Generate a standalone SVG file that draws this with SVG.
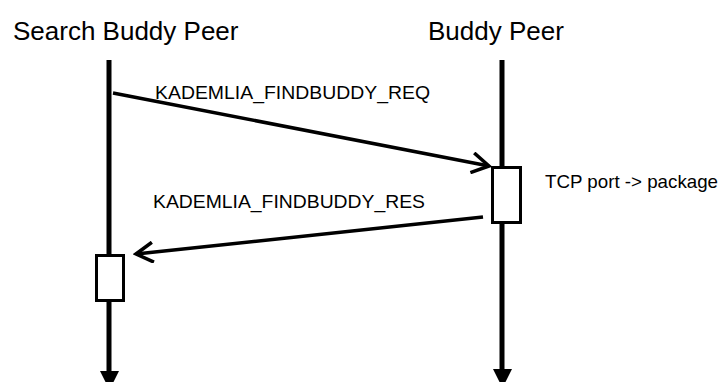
<svg xmlns="http://www.w3.org/2000/svg" width="724" height="382" viewBox="0 0 724 382">
  <style>
    .title { font-family: "Liberation Sans", Arial, sans-serif; font-size: 26px; fill: #000; }
    .label { font-family: "Liberation Sans", Arial, sans-serif; font-size: 19px; fill: #000; }
    .life { stroke: #000; stroke-width: 5; fill: none; }
    .msg { stroke: #000; stroke-width: 3.5; fill: none; }
    .act { stroke: #000; stroke-width: 3; fill: #fff; }
    .head { fill: #000; }
  </style>
  <defs>
    <!-- open chevron used on message arrows -->
    <marker id="open" markerWidth="22" markerHeight="22" refX="19" refY="11" orient="auto" markerUnits="userSpaceOnUse">
      <path d="M2,1 L19,11 L2,21" fill="none" stroke="#000" stroke-width="3.5"/>
    </marker>
  </defs>
  <rect width="724" height="382" fill="#fff"/>

  <g id="search-buddy-peer">
    <text class="title" x="13" y="40">Search Buddy Peer</text>
    <line class="life" x1="109" y1="60" x2="109" y2="372"/>
    <path class="head" d="M100,371 L119,371 L109.5,390 Z"/>
    <rect class="act" x="96.5" y="255.5" width="27" height="45"/>
  </g>

  <g id="buddy-peer">
    <text class="title" x="428" y="40">Buddy Peer</text>
    <line class="life" x1="502" y1="60" x2="502" y2="370"/>
    <path class="head" d="M493,369 L512,369 L502.5,388 Z"/>
    <rect class="act" x="492.5" y="167.5" width="28" height="55"/>
    <text class="label" x="545" y="188" textLength="173" lengthAdjust="spacingAndGlyphs">TCP port -&gt; package</text>
  </g>

  <g id="connectors">
    <line class="msg" x1="113" y1="93" x2="489" y2="166" marker-end="url(#open)"/>
    <text class="label" x="155" y="99" textLength="275" lengthAdjust="spacingAndGlyphs">KADEMLIA_FINDBUDDY_REQ</text>
    <line class="msg" x1="483" y1="217" x2="136" y2="254" marker-end="url(#open)"/>
    <text class="label" x="153" y="208" textLength="272" lengthAdjust="spacingAndGlyphs">KADEMLIA_FINDBUDDY_RES</text>
  </g>
</svg>
